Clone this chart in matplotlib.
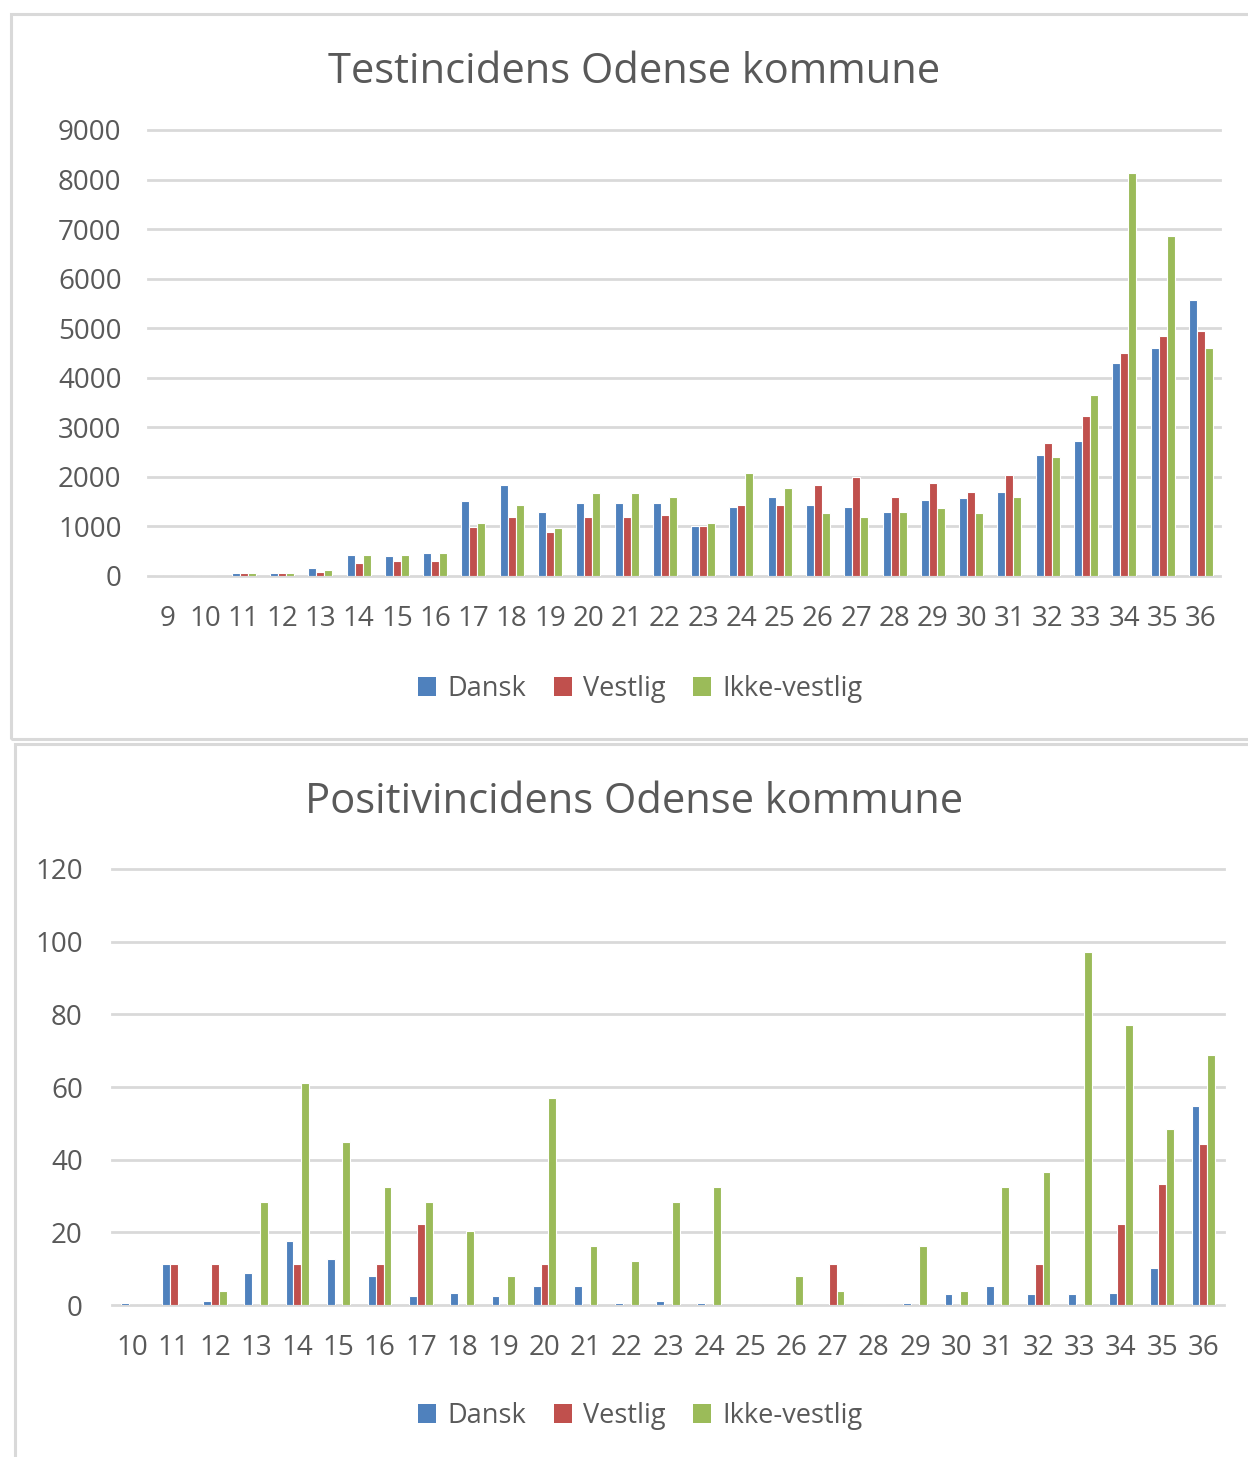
import matplotlib.pyplot as plt
import numpy as np
from matplotlib.patches import Rectangle, Patch

plt.rcParams['font.family'] = ['Open Sans', 'DejaVu Sans']

# Data
weeks_test = list(range(9, 37))
test_dansk = [0, 0, 55, 55, 165, 425, 400, 460, 1510, 1840, 1300, 1465, 1465, 1465,
              1000, 1400, 1600, 1435, 1400, 1300, 1535, 1570, 1705, 2445, 2715, 4295, 4600, 5575]
test_vestlig = [0, 0, 55, 55, 80, 265, 300, 300, 995, 1200, 895, 1200, 1200, 1230,
                1000, 1435, 1435, 1840, 2005, 1600, 1870, 1705, 2040, 2680, 3220, 4500, 4835, 4935]
test_ikke = [0, 0, 55, 55, 130, 430, 430, 460, 1060, 1430, 960, 1670, 1670, 1600,
             1065, 2075, 1770, 1265, 1200, 1300, 1365, 1265, 1600, 2410, 3655, 8135, 6855, 4600]

weeks_pos = list(range(10, 37))
pos_dansk = [0.5, 11.2, 1.1, 8.9, 17.7, 12.6, 8.0, 2.5, 3.4, 2.5, 5.3, 5.3, 0.6, 1.1,
             0.5, 0, 0, 0, 0, 0.6, 2.9, 5.2, 2.9, 2.9, 3.4, 10.3, 54.9]
pos_vestlig = [0, 11.2, 11.2, 0, 11.2, 0, 11.2, 22.3, 0, 0, 11.2, 0, 0, 0,
               0, 0, 0, 11.2, 0, 0, 0, 0, 11.2, 0, 22.3, 33.3, 44.3]
pos_ikke = [0, 0, 3.9, 28.3, 61.0, 44.9, 32.4, 28.3, 20.5, 8.0, 56.9, 16.3, 12.2, 28.3,
            32.4, 0, 8.0, 3.9, 0, 16.3, 3.9, 32.4, 36.5, 97.2, 77.0, 48.5, 68.7]

series_names = ['Dansk', 'Vestlig', 'Ikke-vestlig']
colors = ['#4F81BD', '#C0504D', '#9BBB59']
text_color = '#595959'
grid_color = '#D9D9D9'

W, H = 1248, 1457
fig = plt.figure(figsize=(W / 100, H / 100), dpi=100)


def px_axes(left, top, right, bottom):
    return fig.add_axes([left / W, 1 - bottom / H, (right - left) / W, (bottom - top) / H])


def px_rect(left, top, right, bottom):
    r = Rectangle((left / W, 1 - bottom / H), (right - left) / W, (bottom - top) / H,
                  transform=fig.transFigure, fill=False, edgecolor=grid_color, linewidth=2.2)
    fig.add_artist(r)


# panel borders
px_rect(11, 14, 1262, 739)
px_rect(15, 744, 1262, 1480)


def bar_chart(ax, weeks, data, width, ymax, ystep, title, title_y, legend_y, xpad, ypad):
    x = np.arange(len(weeks))
    for i, (vals, c) in enumerate(zip(data, colors)):
        ax.bar(x + (i - 1) * width, vals, width=width, color=c, edgecolor='white',
               linewidth=0.8, label=series_names[i], zorder=3)
    ax.set_xlim(-0.5, len(weeks) - 0.5)
    ax.set_ylim(0, ymax)
    ax.set_yticks(np.arange(0, ymax + 1, ystep))
    ax.set_xticks(x)
    ax.set_xticklabels([str(w) for w in weeks])
    for s in ax.spines.values():
        s.set_visible(False)
    ax.grid(axis='y', color=grid_color, linewidth=2.0, zorder=0)
    for line in ax.get_ygridlines():
        line.set_clip_on(False)
    ax.tick_params(axis='both', length=0, labelsize=20, labelcolor=text_color)
    ax.tick_params(axis='x', pad=xpad)
    ax.tick_params(axis='y', pad=ypad)
    fig.text(0.508, 1 - title_y / H, title, ha='center', va='center',
             fontsize=30, color=text_color)
    handles = [Patch(facecolor=c, edgecolor='none') for c in colors]
    fig.legend(handles, series_names, loc='center', bbox_to_anchor=(0.513, 1 - legend_y / H),
               ncol=3, frameon=False, fontsize=19.5, labelcolor=text_color,
               handlelength=0.65, handleheight=0.65, handletextpad=0.4, columnspacing=1.05)


ax1 = px_axes(148, 130, 1220, 576)
bar_chart(ax1, weeks_test, [test_dansk, test_vestlig, test_ikke], 0.21, 9000, 1000,
          'Testincidens Odense kommune', 72, 689, 21, 19)

ax2 = px_axes(112, 869, 1224, 1305)
bar_chart(ax2, weeks_pos, [pos_dansk, pos_vestlig, pos_ikke], 0.19, 120, 20,
          'Positivincidens Odense kommune', 802, 1416, 21, 21)

fig.savefig('out.png', dpi=100)
